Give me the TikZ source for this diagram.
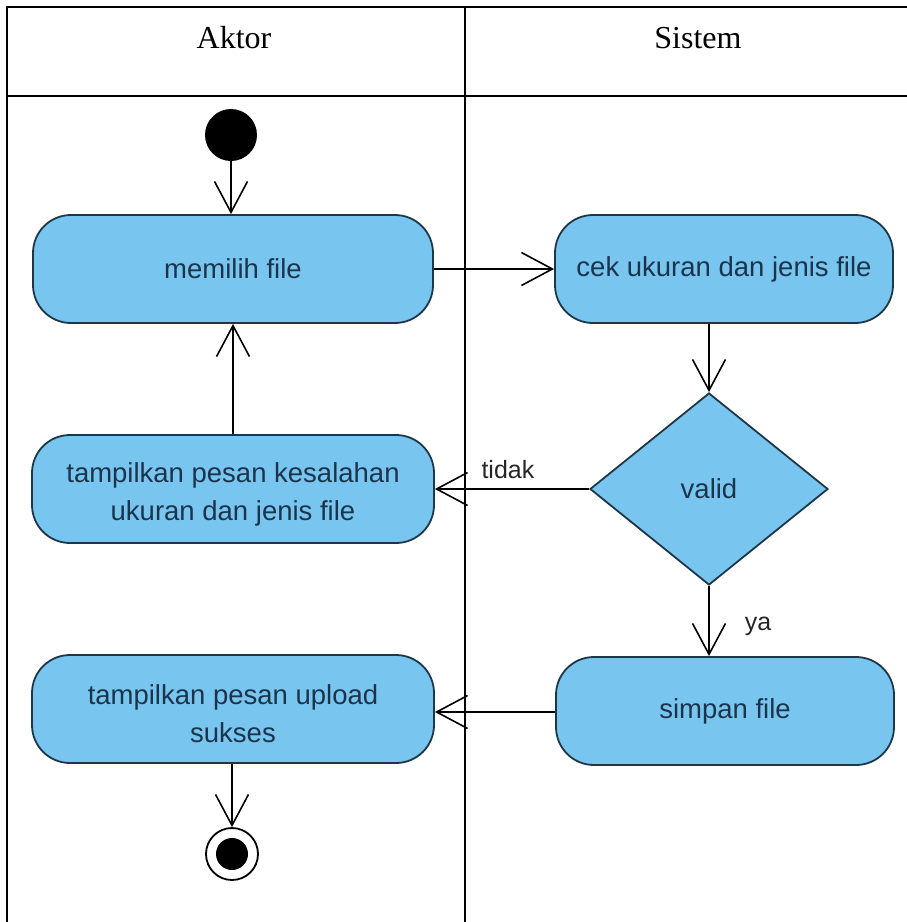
\documentclass[tikz,border=0pt]{standalone}
\usepackage{fontspec}
\setmainfont{Liberation Sans}
\newfontfamily\headfont{Liberation Serif}
\usetikzlibrary{shapes.geometric,arrows.meta}

\definecolor{actfill}{RGB}{120,198,240}
\definecolor{actline}{RGB}{30,55,72}
\definecolor{acttext}{RGB}{28,52,75}

\tikzset{
  frameline/.style={line width=2pt, black},
  action/.style={rectangle, rounded corners=38pt, draw=actline, fill=actfill,
    line width=1.8pt, minimum width=400pt, minimum height=108pt, align=center,
    text=acttext, font=\fontsize{27.5}{38}\selectfont, inner sep=0pt},
  decision/.style={diamond, draw=actline, fill=actfill, line width=1.8pt,
    minimum width=238pt, minimum height=192pt, inner sep=0pt,
    text=acttext, font=\fontsize{27.5}{38}\selectfont},
  flow/.style={line width=1.8pt, black,
    -{Straight Barb[length=31pt,width=33pt,line width=1.6pt]}},
  startnode/.style={circle, fill=black, minimum size=52pt, inner sep=0pt},
  endnode/.style={circle, draw=black, line width=1.8pt, fill=white,
    minimum size=52pt, inner sep=0pt},
  guard/.style={font=\fontsize{25}{28}\selectfont, text=black!85},
  lanehead/.style={font=\headfont\fontsize{32}{36}\selectfont}
}

\begin{document}
\begin{tikzpicture}[x=1pt,y=-1pt]
\useasboundingbox (0,0) rectangle (907,922);
\fill[white] (0,0) rectangle (907,922);

% swimlane table
\begin{scope}
  \clip (0,0) rectangle (907,922);
  \draw[frameline] (7,940) -- (7,7) -- (930,7);
  \draw[frameline] (7,96) -- (930,96);
  \draw[frameline] (465,7) -- (465,940);
\end{scope}
\node[lanehead] (aktor) at (234,38) {Aktor};
\node[lanehead] (sistem) at (698,38) {Sistem};

% activities
\node[startnode] (start) at (231,135) {};
\node[action] (pilih) at (233,269) {memilih file};
\node[action, minimum width=338pt] (cek) at (724,269) {cek ukuran dan jenis file};
\node[decision] (valid) at (709,489) {valid};
\node[action, minimum width=402pt] (salah) at (233,489) {\rule{0pt}{30pt}tampilkan pesan kesalahan\\ukuran dan jenis file};
\node[action, minimum width=338pt] (simpan) at (725,711) {simpan file};
\node[action, minimum width=402pt] (sukses) at (233,709) {\rule{0pt}{30pt}tampilkan pesan upload\\sukses};
\node[endnode] (akhir) at (232,854) {};
\fill[black] (akhir.center) circle (16pt);

% control flows
\draw[flow] (start) -- (start |- pilih.north);
\draw[flow] (pilih.east) -- (cek.west);
\draw[flow] (valid.north |- cek.south) -- (valid.north);
\draw[flow] (valid.west) -- (salah.east |- valid.west);
\draw[flow] (salah.north) -- (pilih.south);
\draw[flow] (valid.south) -- (valid.south |- simpan.north);
\draw[flow] (simpan.west |- 0,712) -- (sukses.east |- 0,712);
\draw[flow] (sukses.south -| akhir) -- (akhir.north);

% guards
\node[guard, anchor=west] (tidak) at (478,470) {tidak};
\node[guard] (ya) at (758,626) {ya};
\end{tikzpicture}
\end{document}
